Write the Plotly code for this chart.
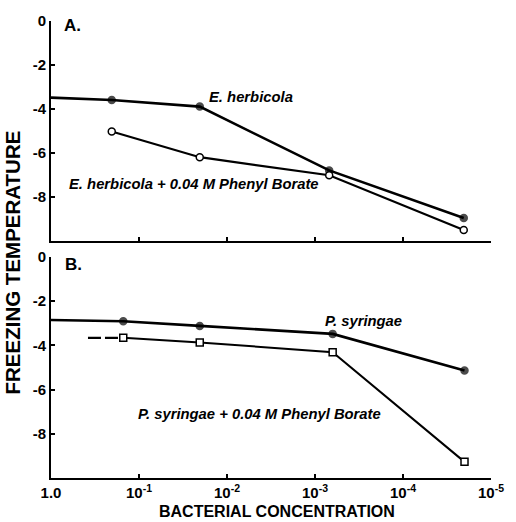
import plotly.graph_objects as go

# ---- data ----
tick_vals = [1.0, 1e-1, 1e-2, 1e-3, 1e-4, 1e-5]
tick_text = ["1.0", "10<sup>-1</sup>", "10<sup>-2</sup>", "10<sup>-3</sup>", "10<sup>-4</sup>", "10<sup>-5</sup>"]
y_ticks = [0, -2, -4, -6, -8]

# Panel A
conc_A_filled = [1.0, 0.204, 0.0204, 6.9e-4, 2.04e-5]
herbicola = [-3.48, -3.59, -3.89, -6.79, -8.95]
conc_A_open = [0.204, 0.0204, 6.9e-4, 2.04e-5]
herbicola_pb = [-5.02, -6.19, -7.01, -9.5]

# Panel B
conc_B_filled = [1.0, 0.151, 0.0204, 6.3e-4, 2.0e-5]
syringae = [-2.85, -2.91, -3.12, -3.48, -5.14]
conc_B_open = [0.151, 0.0204, 6.3e-4, 2.0e-5]
syringae_pb = [-3.66, -3.87, -4.31, -9.27]
conc_B_dash = [0.38, 0.151]
syringae_pb_dash = [-3.66, -3.66]

FONT = "Liberation Sans, Arial, sans-serif"

fig = go.Figure()

def add(x, y, xa, ya, symbol, filled, width, sizes, dash="solid", mode="lines+markers"):
    fig.add_trace(go.Scatter(
        x=x, y=y, xaxis=xa, yaxis=ya, mode=mode,
        line=dict(color="black", width=width, dash=dash),
        marker=dict(symbol=symbol, size=sizes,
                    color="black" if filled else "white",
                    line=dict(color="black", width=1.5)),
        showlegend=False, cliponaxis=False))

# Panel A (top)
add(conc_A_filled, herbicola, "x", "y", "circle", True, 2.6, [0, 7, 7, 7, 7])
add(conc_A_open, herbicola_pb, "x", "y", "circle", False, 2.2, 7)
# Panel B (bottom)
add(conc_B_filled, syringae, "x2", "y2", "circle", True, 2.6, [0, 7, 7, 7, 7])
add(conc_B_dash, syringae_pb_dash, "x2", "y2", "square", False, 2.4, 0, dash="13px,4px", mode="lines")
add(conc_B_open, syringae_pb, "x2", "y2", "square", False, 2.0, 7)

axis_common = dict(
    type="log", range=[0, -5], showgrid=False, zeroline=False,
    showline=True, linecolor="black", linewidth=2,
    ticks="inside", ticklen=4, tickwidth=1.5, tickcolor="black",
    tickvals=tick_vals,
)
yaxis_common = dict(
    range=[-10, 0], showgrid=False, zeroline=False,
    showline=True, linecolor="black", linewidth=2,
    ticks="inside", ticklen=4, tickwidth=1.5, tickcolor="black",
    tickvals=y_ticks, ticktext=[str(v) for v in y_ticks],
    tickfont=dict(family=FONT, size=15, color="black", weight="bold"),
)

fig.update_layout(
    width=516, height=522,
    margin=dict(l=51, r=19, t=19, b=44),
    paper_bgcolor="white", plot_bgcolor="white",
    xaxis=dict(axis_common, anchor="y", showticklabels=False),
    yaxis=dict(yaxis_common, domain=[0.5185, 1.0], anchor="x"),
    xaxis2=dict(axis_common, anchor="y2", ticktext=tick_text,
                tickfont=dict(family=FONT, size=15, color="black", weight="bold")),
    yaxis2=dict(yaxis_common, domain=[0.0, 0.4837], anchor="x2"),
    font=dict(family=FONT, color="black"),
)

def ann(text, x, y, size, xanchor="left", angle=0, italic=False):
    t = f"<b><i>{text}</i></b>" if italic else f"<b>{text}</b>"
    fig.add_annotation(text=t, x=x, y=y, xref="paper", yref="paper", showarrow=False,
                       xanchor=xanchor, yanchor="middle", textangle=angle,
                       font=dict(family=FONT, size=size, color="black"))

# convert figure pixels to paper (plot-area) fractions
L, T, PW, PH = 51, 19, 446, 459
def px(xp): return (xp - L) / PW
def py(yp): return 1 - (yp - T) / PH

ann("A.", px(62), py(24), 17)
ann("B.", px(63), py(264), 17)
ann("E. herbicola", px(209), py(95), 14.8, italic=True)
ann("E. herbicola + 0.04 M Phenyl Borate", px(67), py(183), 14.8, italic=True)
ann("P. syringae", px(327), py(320), 14.8, italic=True)
ann("P. syringae + 0.04 M Phenyl Borate", px(137), py(414), 14.8, italic=True)
ann("BACTERIAL CONCENTRATION", px(280), py(512), 16, xanchor="center")
ann("FREEZING TEMPERATURE", px(12), py(262), 20.5, xanchor="center", angle=-90)

fig.write_html("out.html")
